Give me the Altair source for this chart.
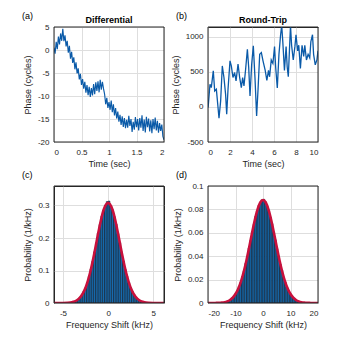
import altair as alt
import pandas as pd

FONT = "Liberation Sans"
TXT = "#262626"
LINE_BLUE = "#0a5aa8"
BAR_BLUE = "#1a78c2"
RED = "#c8103c"
GRID = "#dedede"

# ---------------- (a) Differential phase (cycles), sampled every 0.02 s
phase_a = [0.5, -0.8, 1.8, 0.2, 2.9, 1.2, 3.6, 2.0, 4.6, 1.9,
           3.2, 0.8, 2.0, -0.6, 0.9, -1.9, -0.4, -2.8, -1.6, -4.2,
           -2.7, -5.1, -4.0, -6.4, -5.2, -7.6, -6.3, -8.4, -6.9, -9.3,
           -7.6, -9.8, -8.0, -10.2, -8.3, -9.9, -7.4, -9.6, -7.0, -8.9,
           -6.8, -9.2, -6.5, -8.6, -6.9, -8.4, -9.6, -11.8, -10.4, -12.6,
           -11.3, -13.0, -11.0, -13.5, -11.8, -14.2, -12.6, -14.9, -13.4, -15.6,
           -14.1, -16.3, -14.4, -16.7, -14.8, -17.0, -15.2, -16.9, -14.3, -16.5,
           -15.0, -17.8, -15.6, -17.3, -14.6, -16.8, -15.0, -17.5, -14.8, -16.9,
           -14.2, -17.6, -15.1, -17.9, -14.5, -16.8, -14.9, -17.7, -15.3, -18.1,
           -15.0, -17.2, -14.7, -17.5, -15.4, -18.0, -15.9, -17.6, -16.2, -18.8,
           -19.5]
time_a = [round(0.02 * i, 2) for i in range(len(phase_a))]

# ---------------- (b) Round-trip phase (cycles)
time_b = [0.0, 0.03, 0.18, 0.30, 0.48, 0.61, 0.76, 1.0, 1.15, 1.30,
          1.45, 1.6, 1.7, 1.82, 2.0, 2.12, 2.27, 2.42, 2.55, 2.73,
          2.88, 3.03, 3.15, 3.27, 3.42, 3.58, 3.70, 3.82, 3.97, 4.12,
          4.27, 4.42, 4.55, 4.70, 4.85, 5.0, 5.2, 5.35, 5.5, 5.6,
          5.75, 5.9, 6.05, 6.15, 6.3, 6.45, 6.6, 6.7, 6.8, 6.95,
          7.1, 7.2, 7.3, 7.5, 7.6, 7.75, 7.9, 8.0, 8.15, 8.25,
          8.4, 8.55, 8.7, 8.8, 8.95, 9.1, 9.25, 9.35, 9.5, 9.6,
          9.75, 9.9, 10.0]
phase_b = [-10, 30, 324, 276, 514, 228, 252, -162, 86, 585,
           420, 180, -105, 252, 657, 585, 420, 490, 371, 610,
           419, 276, 419, 300, 538, 823, 562, 157, 609, 871,
           419, -128, 252, 752, 776, 657, 520, 380, 520, 430,
           670, 620, 860, 570, 270, 750, 1030, 1160, 930, 520,
           860, 570, 430, 1160, 880, 670, 860, 1030, 800, 880,
           550, 880, 720, 880, 670, 750, 700, 930, 1030, 750,
           600, 670, 800]

# ---------------- (c) histogram, bins of 0.2 kHz centred -5.9 .. 5.9
hist_c = [0, 0, 0, 0, 0.0001, 0.0002, 0.0004, 0.0007, 0.0012, 0.002,
          0.0033, 0.0050, 0.0079, 0.0115, 0.0172, 0.0246, 0.0352, 0.0468, 0.0635, 0.0815,
          0.1045, 0.1285, 0.1575, 0.1845, 0.2150, 0.2415, 0.2670, 0.2855, 0.3010, 0.3120,
          0.3135, 0.2995, 0.2865, 0.2655, 0.2425, 0.2135, 0.1855, 0.1565, 0.1295, 0.1035,
          0.0825, 0.0625, 0.0472, 0.0348, 0.0252, 0.0168, 0.0118, 0.0077, 0.0052, 0.0031,
          0.0021, 0.0012, 0.0007, 0.0004, 0.0002, 0.0001, 0, 0, 0, 0]
width_c = 0.2
center_c = [round(-5.9 + width_c * i, 2) for i in range(len(hist_c))]
fit_x_c = [-6, -5.5, -5, -4.5, -4, -3.5, -3, -2.5, -2, -1.5, -1, -0.5, 0,
           0.5, 1, 1.5, 2, 2.5, 3, 3.5, 4, 4.5, 5, 5.5, 6, 6.5]
fit_y_c = [0.0, 0.0001, 0.0002, 0.0007, 0.0025, 0.0078, 0.021, 0.047, 0.093, 0.157,
           0.228, 0.286, 0.308, 0.286, 0.228, 0.157, 0.093, 0.047, 0.021, 0.0078,
           0.0025, 0.0007, 0.0002, 0.0001, 0.0, 0.0]

# ---------------- (d) histogram, bins of 0.6 kHz centred -19.5 .. 19.5
hist_d = [0, 0, 0, 0, 0.0001, 0.0001, 0.0002, 0.0003, 0.0004, 0.0007,
          0.0010, 0.0016, 0.0022, 0.0030, 0.0045, 0.0059, 0.0082, 0.0106, 0.0141, 0.0176,
          0.0226, 0.0273, 0.0338, 0.0396, 0.0470, 0.0534, 0.0610, 0.0672, 0.0740, 0.0787,
          0.0836, 0.0860, 0.0882,
          0.0886, 0.0865, 0.0830, 0.0793, 0.0734, 0.0678, 0.0604, 0.0540, 0.0464, 0.0402,
          0.0332, 0.0279, 0.0221, 0.0180, 0.0137, 0.0108, 0.0080, 0.0061, 0.0043, 0.0032,
          0.0021, 0.0015, 0.0010, 0.0007, 0.0004, 0.0003, 0.0002, 0.0001, 0.0001, 0,
          0, 0, 0]
width_d = 0.6
center_d = [round(-19.5 + width_d * i, 2) for i in range(len(hist_d))]
fit_x_d = list(range(-20, 21))
fit_y_d = [0, 0, 0, 0.0001, 0.0002, 0.0004, 0.0007, 0.0014, 0.0026, 0.0046,
           0.0077, 0.0122, 0.0185, 0.0267, 0.0366, 0.0478, 0.0596, 0.0707, 0.0798, 0.0859,
           0.0880,
           0.0859, 0.0798, 0.0707, 0.0596, 0.0478, 0.0366, 0.0267, 0.0185, 0.0122, 0.0077,
           0.0046, 0.0026, 0.0014, 0.0007, 0.0004, 0.0002, 0.0001, 0, 0, 0]

LBL = "'' + datum.value"
W = 110
H1 = 115
H2 = 117


def ax(title, values):
    return alt.Axis(title=title, values=values, labelExpr=LBL, labelOverlap=False)


def one(text):
    return alt.Chart(pd.DataFrame({"lab": [text]}))


def tag(text):
    return one(text).mark_text(
        align="left", baseline="middle", font=FONT, fontSize=9, color="#000000"
    ).encode(x=alt.value(-32), y=alt.value(-11), text="lab:N")


def head(text):
    return one(text).mark_text(
        align="center", baseline="middle", font=FONT, fontSize=9, fontWeight="bold", color="#000000"
    ).encode(x=alt.value(W / 2), y=alt.value(-7.5), text="lab:N")


def frame(h):
    return one("").mark_rect(fillOpacity=0, stroke=TXT, strokeWidth=1).encode(
        x=alt.value(0), x2=alt.value(W), y=alt.value(0), y2=alt.value(h)
    )


# (a)
df_a = pd.DataFrame({"t": time_a, "p": phase_a})
line_a = alt.Chart(df_a).mark_line(color=LINE_BLUE, strokeWidth=1.15, clip=True).encode(
    x=alt.X("t:Q", scale=alt.Scale(domain=[0, 2], nice=False), axis=ax("Time (sec)", [0, 0.5, 1, 1.5, 2])),
    y=alt.Y("p:Q", scale=alt.Scale(domain=[-20, 5], nice=False),
            axis=ax("Phase (cycles)", [-20, -15, -10, -5, 0, 5])),
)
pa = alt.layer(line_a, frame(H1), tag("(a)"), head("Differential")).properties(width=W, height=H1)

# (b)
df_b = pd.DataFrame({"t": time_b, "p": phase_b})
line_b = alt.Chart(df_b).mark_line(color=LINE_BLUE, strokeWidth=1.3, clip=True).encode(
    x=alt.X("t:Q", scale=alt.Scale(domain=[0, 10], nice=False), axis=ax("Time (sec)", [0, 2, 4, 6, 8, 10])),
    y=alt.Y("p:Q", scale=alt.Scale(domain=[-500, 1140], nice=False),
            axis=ax("Phase (cycles)", [-500, 0, 500, 1000])),
)
pb = alt.layer(line_b, frame(H1), tag("(b)"), head("Round-Trip")).properties(width=W, height=H1)


def hist_panel(centers, heights, bw, fx, fy, xdom, ydom, xticks, yticks, h, label):
    dfh = pd.DataFrame({"c": centers, "h": heights})
    dfh["lo"] = dfh["c"] - bw / 2
    dfh["hi"] = dfh["c"] + bw / 2
    dfh["base"] = 0.0
    xs = alt.Scale(domain=xdom, nice=False)
    ys = alt.Scale(domain=ydom, nice=False)
    xax = ax("Frequency Shift (kHz)", xticks)
    yax = ax("Probability (1/kHz)", yticks)
    bars = alt.Chart(dfh).mark_rect(color=BAR_BLUE, stroke="#0a0f1a", strokeWidth=0.55, clip=True).encode(
        x=alt.X("lo:Q", scale=xs, axis=xax),
        x2="hi:Q",
        y=alt.Y("h:Q", scale=ys, axis=yax),
        y2="base:Q",
    )
    fit = alt.Chart(pd.DataFrame({"lo": fx, "h": fy})).mark_line(
        color=RED, strokeWidth=2.6, interpolate="monotone", clip=True
    ).encode(x=alt.X("lo:Q", scale=xs, axis=xax), y=alt.Y("h:Q", scale=ys, axis=yax))
    return alt.layer(bars, fit, frame(h), tag(label)).properties(width=W, height=h)


pc = hist_panel(center_c, hist_c, width_c, fit_x_c, fit_y_c, [-6, 6.2], [0, 0.36],
                [-5, 0, 5], [0, 0.1, 0.2, 0.3], H2, "(c)")
pd_ = hist_panel(center_d, hist_d, width_d, fit_x_d, fit_y_d, [-20, 20], [0, 0.1],
                 [-20, -10, 0, 10, 20], [0, 0.02, 0.04, 0.06, 0.08, 0.1], H2, "(d)")

chart = alt.concat(pa, pb, pc, pd_, columns=2, spacing=44, bounds="flush").properties(
    padding={"left": 13, "top": 3, "right": 5, "bottom": 5},
    background="white",
).configure_view(
    stroke=TXT, strokeWidth=1
).configure_axis(
    labelFont=FONT, titleFont=FONT, labelFontSize=8, titleFontSize=9,
    titleFontWeight="normal", labelColor=TXT, titleColor=TXT,
    domain=False, ticks=False, gridColor=GRID, gridWidth=1,
).configure_axisX(
    labelPadding=6, titlePadding=3,
).configure_axisY(
    labelPadding=5, titlePadding=5,
)

chart.save("out.html", embed_options={"renderer": "svg", "actions": False})
